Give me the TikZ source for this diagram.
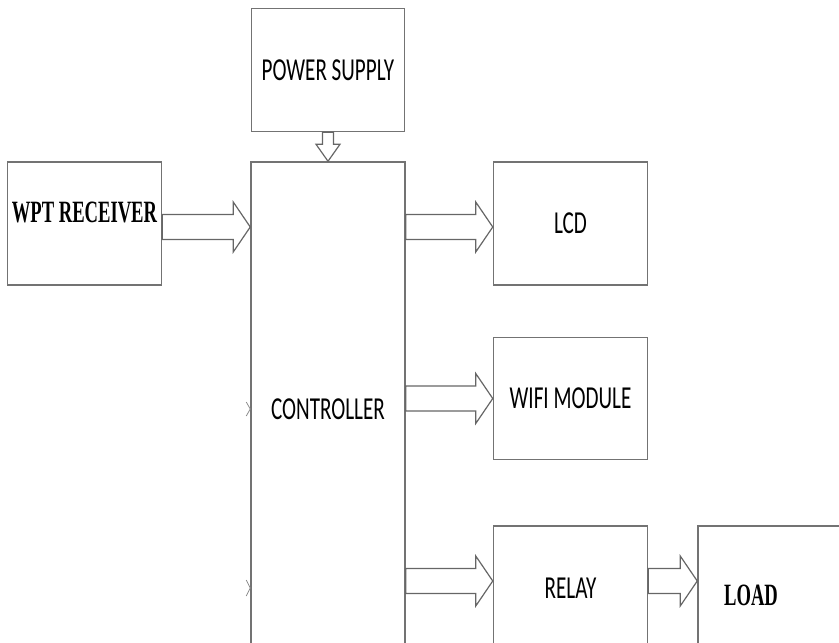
\documentclass[tikz,border=0pt]{standalone}
\usepackage{fontspec}
\usetikzlibrary{positioning,calc}
\newfontfamily\officesans[FakeStretch=0.66]{Carlito}
\newfontfamily\officeserif[FakeStretch=0.6]{Liberation Serif Bold}
\newcommand{\harrow}[3]{%
  \draw[fat] let \p1=(#1), \p2=($(#2)+(0pt,#3)$) in
    (\x1,\y2+12.5pt) -- (\x2-17pt,\y2+12.5pt) -- (\x2-17pt,\y2+25pt) -- (\x2,\y2)
    -- (\x2-17pt,\y2-25pt) -- (\x2-17pt,\y2-12.5pt) -- (\x1,\y2-12.5pt) -- cycle;}
\newcommand{\varrow}[2]{%
  \draw[fat] let \p1=(#1), \p2=(#2) in
    (\x2-5.5pt,\y1) -- (\x2-5.5pt,\y2+17pt) -- (\x2-12pt,\y2+17pt) -- (\x2,\y2)
    -- (\x2+12pt,\y2+17pt) -- (\x2+5.5pt,\y2+17pt) -- (\x2+5.5pt,\y1) -- cycle;}

\begin{document}
\begin{tikzpicture}[
  x=1pt, y=-1pt,
  node distance=50pt,
  block/.style={draw=black!55,line width=1.5pt,minimum width=154pt,minimum height=123pt,align=center,inner sep=0pt,font=\officesans\fontsize{32}{36}\selectfont,text=black},
  wordtext/.style={font=\officeserif\fontsize{31}{34}\selectfont,text=black},
  fat/.style={draw=black!60,line width=1.2pt,line join=miter},
  stray/.style={draw=black!45,line width=0.8pt}
]
  \clip (0,0) rectangle (839,643);
  \node[block,minimum height=494pt] (ctrl) at (328,409) {CONTROLLER};
  \node[block,minimum width=153pt,above=29pt of ctrl] (psu) {POWER SUPPLY};
  \node[block,below left=0pt and 88pt of ctrl.north west,label={[wordtext,yshift=11pt]center:WPT RECEIVER}] (wpt) {};
  \node[block,below right=0pt and 87pt of ctrl.north east] (lcd) {LCD};
  \node[block,minimum height=122pt,below=51pt of lcd] (wifi) {WIFI MODULE};
  \node[block,minimum height=124pt,below=65pt of wifi] (relay) {RELAY};
  \node[block,minimum height=124pt,right=49pt of relay,label={[wordtext,xshift=-24pt,yshift=-7pt]center:LOAD}] (load) {};

  \varrow{psu.south}{ctrl.north}
  \harrow{wpt.east}{ctrl.west |- wpt.east}{-3.5pt}
  \harrow{ctrl.east}{lcd.west}{-3.5pt}
  \harrow{ctrl.east}{wifi.west}{0pt}
  \harrow{ctrl.east}{relay.west}{7pt}
  \harrow{relay.east}{load.west}{7pt}

  \draw[stray] ($(ctrl.west)+(-4pt,7pt)$) -- (ctrl.west) -- ($(ctrl.west)+(-4pt,-7pt)$);
  \draw[stray] ($(ctrl.west |- relay.west)+(-4pt,8pt)$) -- (ctrl.west |- relay.west) -- ($(ctrl.west |- relay.west)+(-4pt,-8pt)$);
\end{tikzpicture}
\end{document}
